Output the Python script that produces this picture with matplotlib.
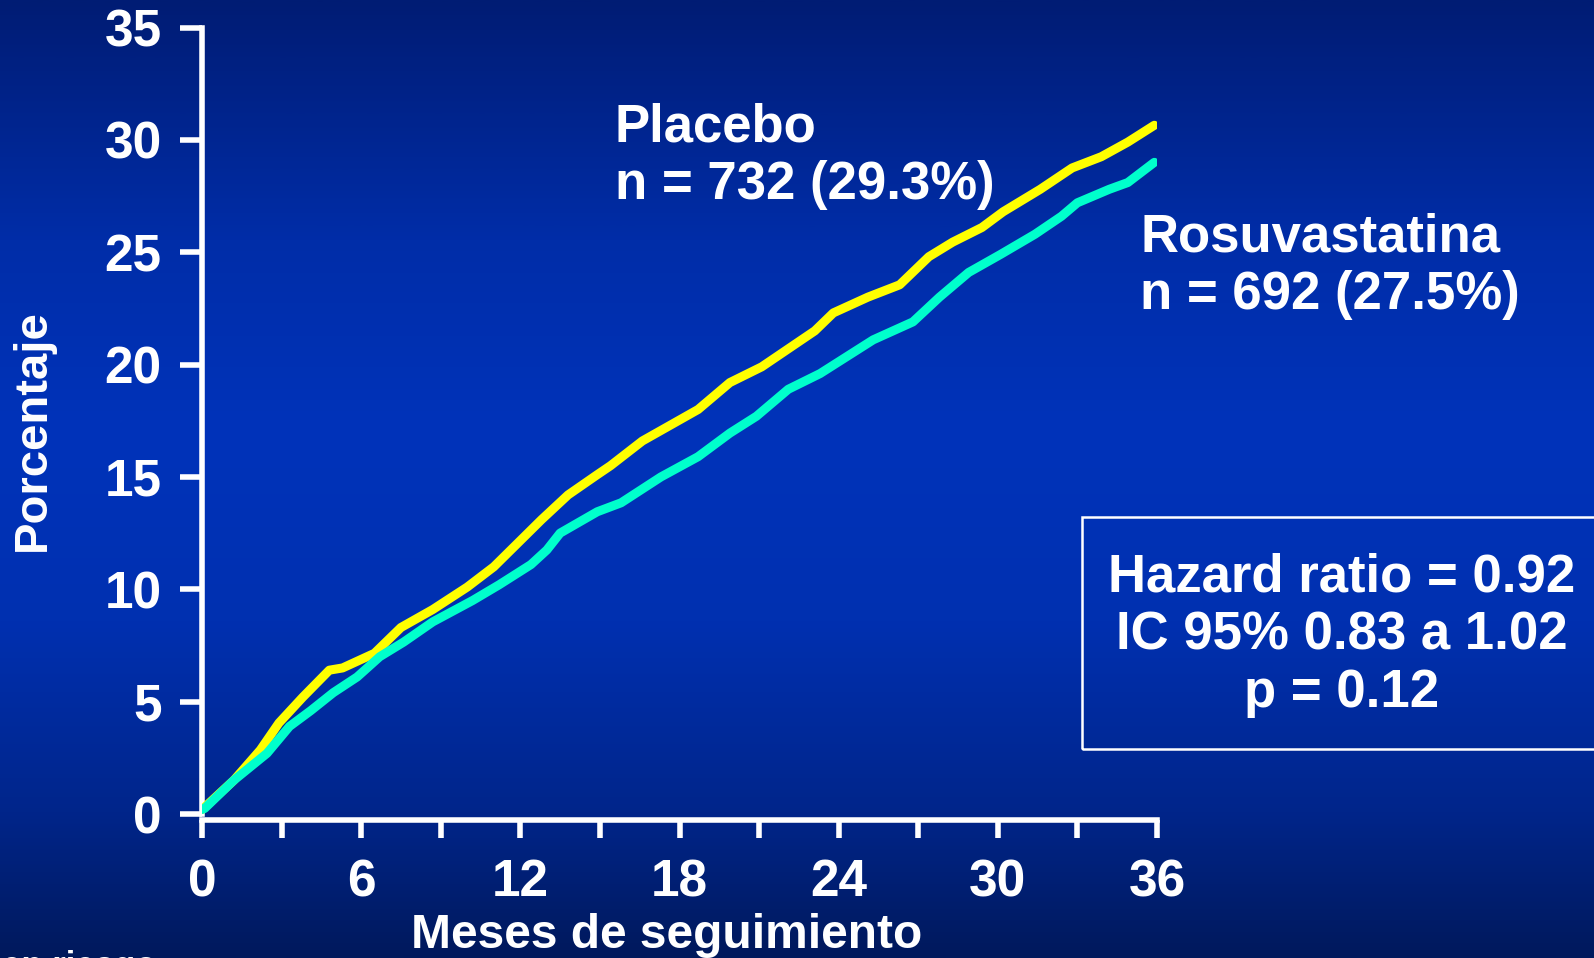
import numpy as np
import matplotlib
matplotlib.use("Agg")
import matplotlib.pyplot as plt
from matplotlib.colors import LinearSegmentedColormap
from matplotlib.patches import Rectangle

# ---- data ----
placebo_t = [0, 0.1, 1.2, 2.2, 2.9, 3.8, 4.8, 5.3, 6.5, 7.5, 8.7, 10.0, 11.0, 11.9,
             12.8, 13.8, 14.9, 15.4, 16.6, 17.8, 18.7, 19.9, 21.1, 22.1, 23.1, 23.8,
             25.1, 26.3, 27.4, 28.3, 29.4, 30.2, 31.6, 32.8, 33.9, 34.9, 35.9]
placebo_v = [0.2, 0.3, 1.5, 2.85, 4.05, 5.2, 6.4, 6.5, 7.15, 8.3, 9.1, 10.1, 11.0, 12.05,
             13.1, 14.2, 15.1, 15.5, 16.6, 17.4, 18.0, 19.2, 19.9, 20.7, 21.5, 22.3,
             23.0, 23.55, 24.8, 25.45, 26.1, 26.8, 27.8, 28.75, 29.25, 29.9, 30.65]

rosu_t = [0, 0.1, 1.2, 2.45, 3.3, 4.1, 4.95, 5.85, 6.7, 7.6, 8.7, 10.2, 11.2, 12.4,
          13.0, 13.5, 14.9, 15.8, 17.3, 18.7, 19.9, 20.9, 22.1, 23.3, 24.3, 25.3,
          26.8, 27.8, 28.9, 30.1, 31.4, 32.4, 33.0, 34.2, 34.9, 35.9]
rosu_v = [0.2, 0.25, 1.5, 2.7, 3.9, 4.6, 5.4, 6.1, 7.0, 7.65, 8.55, 9.5, 10.2, 11.1,
          11.75, 12.5, 13.45, 13.85, 15.0, 15.9, 16.95, 17.7, 18.9, 19.6, 20.35, 21.1,
          21.9, 23.0, 24.1, 24.9, 25.8, 26.6, 27.2, 27.8, 28.1, 29.0]

x_ticks = list(range(0, 37, 3))
x_labels = ["0", "", "6", "", "12", "", "18", "", "24", "", "30", "", "36"]
y_ticks = [0, 5, 10, 15, 20, 25, 30, 35]

placebo_label = "Placebo\nn = 732 (29.3%)"
rosu_label = "Rosuvastatina\nn = 692 (27.5%)"
stats_text = "Hazard ratio = 0.92\nIC 95% 0.83 a 1.02\np = 0.12"

# ---- figure ----
plt.rcParams['font.family'] = ['Liberation Sans', 'DejaVu Sans']
plt.rcParams['font.weight'] = 'bold'
W, H = 1594, 958
fig = plt.figure(figsize=(W / 100, H / 100), dpi=100)

# background gradient
bg = fig.add_axes([0, 0, 1, 1], zorder=-10)
cmap = LinearSegmentedColormap.from_list(
    "bg", [(0.0, "#001c74"), (0.25, "#002da8"), (0.45, "#0033ba"),
           (0.65, "#0030b0"), (0.85, "#00258a"), (1.0, "#00195c")])
grad = np.linspace(0, 1, 512).reshape(-1, 1)
bg.imshow(grad, aspect="auto", cmap=cmap, extent=[0, 1, 0, 1], origin="upper")
bg.set_axis_off()

ax = fig.add_axes([202 / W, 144 / H, (1157 - 202) / W, (814 - 27.5) / H])
ax.patch.set_alpha(0)
ax.set_xlim(0, 36)
ax.set_ylim(0, 35)

ax.plot(placebo_t, placebo_v, color="#ffff00", lw=6.5, solid_capstyle="round",
        solid_joinstyle="round", zorder=3)
ax.plot(rosu_t, rosu_v, color="#00ffcc", lw=6.5, solid_capstyle="round",
        solid_joinstyle="round", zorder=4)

for s in ["top", "right"]:
    ax.spines[s].set_visible(False)
for s in ["left", "bottom"]:
    ax.spines[s].set_color("white")
    ax.spines[s].set_linewidth(4)
ax.spines["bottom"].set_position(("outward", 4))

ax.set_xticks(x_ticks)
ax.set_xticklabels(x_labels)
ax.set_yticks(y_ticks)
ax.tick_params(axis="both", colors="white", width=4, labelsize=37)
ax.tick_params(axis="y", length=16, pad=13)
ax.tick_params(axis="x", length=13, pad=15)
for lab in ax.get_xticklabels() + ax.get_yticklabels():
    lab.set_fontweight("bold")
    lab.set_color("white")

fig.text(667 / W, 1 - 936 / H, "Meses de seguimiento", color="white", fontsize=34.5,
         fontweight="bold", ha="center", va="center")
fig.text(33 / W, 1 - 430 / H, "Porcentaje", color="white", fontsize=34,
         fontweight="bold", rotation=90, ha="center", va="center")

fig.text(615 / W, 1 - 156 / H, placebo_label, color="white", fontsize=38,
         fontweight="bold", ha="left", va="center", linespacing=1.2)
fig.text(1140 / W, 1 - 266 / H, rosu_label, color="white", fontsize=38,
         fontweight="bold", ha="left", va="center", linespacing=1.2)

# stats box
fig.patches.append(Rectangle((1082 / W, 1 - 749 / H), (1600 - 1082) / W, (749 - 517) / H,
                             transform=fig.transFigure, fill=False, edgecolor="white",
                             lw=1.8, zorder=5))
fig.text(1342 / W, 1 - 635 / H, stats_text, color="white", fontsize=38,
         fontweight="bold", ha="center", va="center", linespacing=1.2)

# text cut off by the bottom edge (as in the reference)
fig.text(2 / W, 1 - 950 / H, "en riesgo", color="white", fontsize=25,
         fontweight="bold", ha="left", va="top")

fig.savefig("out.png", dpi=100)
